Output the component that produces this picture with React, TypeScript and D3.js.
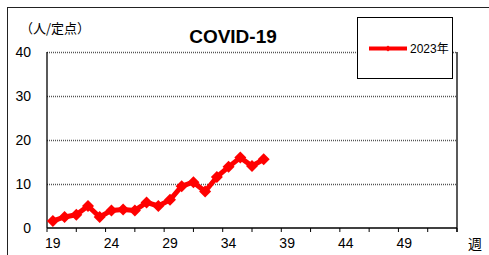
import * as d3 from "d3";
import { useEffect, useRef } from "react";

// weeks on the category axis (19 .. 53)
const weeks = d3.range(19, 54).map(String);
// reported values for 2023, week 19 to 37
const values2023 = [
  1.6, 2.5, 3.0, 5.0, 2.5, 4.0, 4.2, 4.0, 5.8, 5.0, 6.4, 9.5, 10.4, 8.3, 11.6,
  13.9, 16.0, 14.1, 15.6,
];
const yTicks = [0, 10, 20, 30, 40];
const xLabelWeeks = ["19", "24", "29", "34", "39", "44", "49"];
const seriesName = "2023年";

const FONT = '"Liberation Sans", Arial, "Noto Sans CJK JP", sans-serif';
const JP_FONT = '"Noto Sans CJK JP", sans-serif';

export default function App() {
  const svgRef = useRef<SVGSVGElement | null>(null);

  useEffect(() => {
    if (!svgRef.current) return;
    const svg = d3.select(svgRef.current);
    svg.selectAll("*").remove();

    const width = 489;
    const height = 255;
    const plot = { left: 47, right: 457, top: 52, bottom: 228 };

    const x = d3
      .scaleBand()
      .domain(weeks)
      .range([plot.left, plot.right])
      .padding(0);
    const y = d3.scaleLinear().domain([0, 40]).range([plot.bottom, plot.top]);

    svg.attr("width", width).attr("height", height);

    // outer chart frame
    svg
      .append("rect")
      .attr("x", 7.5)
      .attr("y", 7.5)
      .attr("width", width + 10)
      .attr("height", height + 10)
      .attr("fill", "#fff")
      .attr("stroke", "#222")
      .attr("stroke-width", 1);

    // grid lines
    svg
      .append("g")
      .selectAll("line")
      .data(yTicks.filter((d) => d > 0))
      .join("line")
      .attr("x1", plot.left)
      .attr("x2", plot.right)
      .attr("y1", (d) => y(d) + 0.5)
      .attr("y2", (d) => y(d) + 0.5)
      .attr("stroke", "#555")
      .attr("stroke-width", 1.6)
      .attr("stroke-dasharray", "1,1");

    // plot borders
    const border = svg.append("g").attr("stroke", "#000").attr("stroke-width", 1.3);
    border
      .append("line")
      .attr("x1", plot.left)
      .attr("x2", plot.left)
      .attr("y1", plot.top)
      .attr("y2", plot.bottom);
    border
      .append("line")
      .attr("x1", plot.right)
      .attr("x2", plot.right)
      .attr("y1", plot.top)
      .attr("y2", plot.bottom + 4);
    border
      .append("line")
      .attr("x1", plot.left)
      .attr("x2", plot.right)
      .attr("y1", plot.bottom)
      .attr("y2", plot.bottom);

    // x tick marks every 2.5 categories
    const step = x.step();
    border
      .selectAll("line.tick")
      .data(d3.range(0, 15))
      .join("line")
      .attr("class", "tick")
      .attr("x1", (i) => plot.left + i * step * 2.5)
      .attr("x2", (i) => plot.left + i * step * 2.5)
      .attr("y1", plot.bottom)
      .attr("y2", plot.bottom + 4)
      .attr("stroke-width", 1);

    // y tick labels
    svg
      .append("g")
      .selectAll("text")
      .data(yTicks)
      .join("text")
      .attr("x", 31)
      .attr("y", (d) => y(d))
      .attr("dy", "0.35em")
      .attr("text-anchor", "end")
      .attr("font-family", FONT)
      .attr("font-size", 14)
      .attr("fill", "#000")
      .text((d) => d);

    // x tick labels
    svg
      .append("g")
      .selectAll("text")
      .data(xLabelWeeks)
      .join("text")
      .attr("x", (d) => x(d)! + x.bandwidth() / 2)
      .attr("y", 248)
      .attr("text-anchor", "middle")
      .attr("font-family", FONT)
      .attr("font-size", 14)
      .attr("fill", "#000")
      .text((d) => d);

    // axis unit labels
    svg
      .append("text")
      .attr("x", 20)
      .attr("y", 33)
      .attr("font-family", JP_FONT)
      .attr("font-size", 13)
      .attr("fill", "#000")
      .text("（人/定点）");
    svg
      .append("text")
      .attr("x", 468)
      .attr("y", 249)
      .attr("font-family", JP_FONT)
      .attr("font-size", 14)
      .attr("fill", "#000")
      .text("週");

    // title
    svg
      .append("text")
      .attr("x", 233)
      .attr("y", 43)
      .attr("text-anchor", "middle")
      .attr("font-family", FONT)
      .attr("font-size", 19)
      .attr("font-weight", "bold")
      .attr("fill", "#000")
      .text("COVID-19");

    // series
    const pts = values2023.map((v, i) => ({ week: weeks[i], v }));
    const cx = (d: { week: string }) => x(d.week)! + x.bandwidth() / 2;
    const line = d3
      .line<{ week: string; v: number }>()
      .x(cx)
      .y((d) => y(d.v));
    svg
      .append("path")
      .datum(pts)
      .attr("d", line)
      .attr("fill", "none")
      .attr("stroke", "#ff0000")
      .attr("stroke-width", 5)
      .attr("stroke-linejoin", "round");

    const r = 6;
    const diamond = (px: number, py: number, s: number) =>
      `M${px},${py - s}L${px + s},${py}L${px},${py + s}L${px - s},${py}Z`;
    svg
      .append("g")
      .selectAll("path")
      .data(pts)
      .join("path")
      .attr("d", (d) => diamond(cx(d), y(d.v), r))
      .attr("fill", "#ff0000");

    // legend
    const lg = svg.append("g");
    lg.append("rect")
      .attr("x", 357.5)
      .attr("y", 17.5)
      .attr("width", 95)
      .attr("height", 61)
      .attr("fill", "#fff")
      .attr("stroke", "#000")
      .attr("stroke-width", 1);
    lg.append("line")
      .attr("x1", 369)
      .attr("x2", 407)
      .attr("y1", 48.5)
      .attr("y2", 48.5)
      .attr("stroke", "#ff0000")
      .attr("stroke-width", 4);
    lg.append("path")
      .attr("d", diamond(388, 48.5, 3))
      .attr("fill", "#ff0000");
    lg.append("text")
      .attr("x", 410)
      .attr("y", 53)
      .attr("font-family", FONT)
      .attr("font-size", 12)
      .attr("fill", "#000")
      .text(seriesName);
  }, []);

  return (
    <svg
      ref={svgRef}
      style={{ position: "absolute", left: 0, top: 0, display: "block" }}
    ></svg>
  );
}
